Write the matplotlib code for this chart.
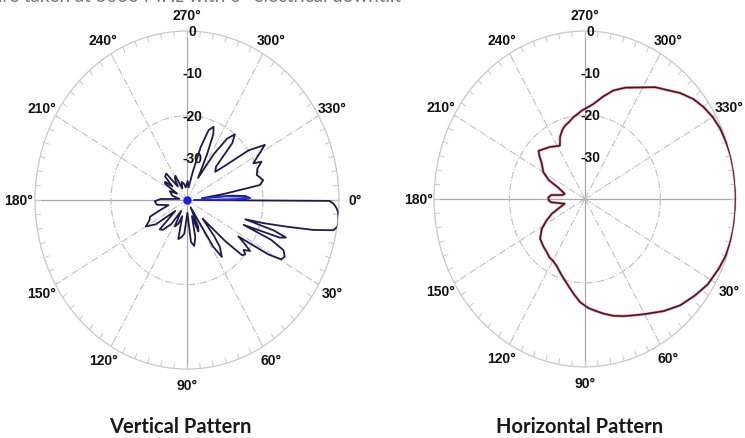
import numpy as np
import matplotlib.pyplot as plt
from matplotlib.transforms import ScaledTranslation

plt.rcParams['font.family'] = ['Liberation Sans', 'DejaVu Sans']

# vertical pattern: angle (deg, clockwise from 0° at right) and level (dB)
v_angle = [0.0, 0.3, 1.2, 2, 3, 4, 5, 7, 9, 10.5, 12, 13.5, 15.2, 16.5,
           17.5, 18.8, 20, 21.5,
           23, 25, 27.5, 29.5, 31, 32.5,
           34, 36, 38.4, 40, 42, 44, 47,
           50, 52, 55.7, 58, 61,
           65, 68, 71,
           76, 80, 84, 88,
           95, 100, 104, 108,
           112, 117, 121,
           126, 132, 136, 140,
           145, 150, 154, 158, 162,
           166, 172, 178, 182, 188,
           195, 205, 210,
           214, 217, 220,
           224, 229, 233,
           238, 242, 246,
           252, 258, 264, 272, 278,
           283, 286, 289, 292, 294, 296, 299,
           303, 306, 309, 311.5, 314,
           318, 321, 324, 327.5, 330, 333.5, 335.2, 338, 342, 346.8, 349.5, 351.5, 353.5,
           355, 356.5, 358.4, 359.2, 360]
v_db = [-38, -2.5, -1.5, -1.0, -0.5, -0.2, 0, 0.2, 0.1, -0.8, -6, -13, -19.2, -24,
        -16, -12.5, -14, -24,
        -16, -12, -11, -11.5, -15, -24,
        -22, -19.5, -21, -20, -20.5, -26, -34,
        -29, -26, -23.7, -27, -38,
        -33, -32, -36,
        -31, -29, -30, -37,
        -32, -31, -30.5, -36,
        -34, -33, -37,
        -33, -30.5, -30, -36,
        -30, -27.5, -29, -29.5, -33,
        -35, -32, -31.5, -33, -38,
        -36, -35, -37,
        -33, -32.8, -35,
        -32, -31.7, -36,
        -34, -33.5, -37,
        -35.5, -36, -37, -35.5, -37,
        -33, -27, -22.5, -21.3, -23, -28, -34,
        -27, -22, -20, -22, -29,
        -30, -27, -20, -15.7, -18, -20.5, -18.4, -20, -20.7, -19.4, -20.5, -30, -36,
        -28, -24.5, -23.4, -27, -38]

# small blue side lobe near the horizon
vb_angle = [353.5, 355, 356.5, 357.5, 358.4, 359.2, 360]
vb_db = [-36, -30, -27, -24, -23.4, -27, -38]

# horizontal pattern
h_angle = [0, 5, 10, 15, 20, 25, 32, 38, 45, 52, 59, 63, 67, 70, 75, 80, 84, 88, 93, 97,
           101, 108.7, 115.3, 119.8, 124, 128.7, 134, 141.4, 148, 153, 158, 163, 168,
           172, 175, 178, 182, 186, 189, 193, 197.5, 201, 205, 210, 217, 220.5, 223,
           227, 233, 238, 242.4, 246, 250, 253, 257, 261, 268, 275.6, 281, 286.2, 292,
           299.4, 305, 311, 315, 320.3, 325, 330, 335, 340, 345, 350, 355, 360]
h_db = [0, 0, 0, -0.1, -0.3, -0.8, -1.6, -2.8, -4.2, -6.1, -8.1, -9.0, -9.8, -10.3, -11.2,
        -12.3, -13.2, -14.0, -15.4, -17.0,
        -18.5, -20.8, -22.4, -23, -23.2, -23.8, -24.2, -24.8, -26.5, -28.5, -30.5, -33, -34.5,
        -33, -31, -30.4, -30.3, -31, -34, -34.5, -33.5, -32.4, -29.5, -27.3, -25.6, -24.1, -23.2,
        -23.8, -24.5, -25.2, -25.7, -23.8, -22.5, -21.8, -21.2, -20.3, -18.9, -17.3, -15.2, -13.1, -11.4,
        -9.5, -7.5, -5.8, -4.3, -2.7, -1.7, -0.9, -0.4, -0.2, 0, 0, 0, 0]

theta_ticks = list(range(0, 360, 30))
theta_labels = [f'{a}°' for a in theta_ticks]
r_ticks = [0, -10, -20, -30]
titles = ['Vertical Pattern', 'Horizontal Pattern']

fig = plt.figure(figsize=(7.45, 4.39), dpi=100)
ax1 = fig.add_axes([0.047, 0.157, 0.408, 0.770], projection='polar')
ax2 = fig.add_axes([0.5826, 0.162, 0.405, 0.765], projection='polar')


def style_polar(ax):
    ax.set_theta_zero_location('E')
    ax.set_theta_direction(-1)
    ax.set_ylim(-40, 0)
    ax.grid(False)
    ax.set_yticks([])
    ax.set_xticks(np.radians(theta_ticks), theta_labels)
    ax.tick_params(axis='x', labelsize=10, pad=1, colors='#111111')
    for lab in ax.get_xticklabels():
        lab.set_fontweight('bold')
    ax.spines['polar'].set_color('#c8c8c8')
    ax.spines['polar'].set_linewidth(0.9)
    # spokes
    for a in theta_ticks:
        t = np.radians(a)
        if a % 90 == 0:
            ax.plot([t, t], [-40, 0], color='#a9a9a9', lw=0.9, zorder=1)
        else:
            ax.plot([t, t], [-40, 0], color='#c0c0c0', lw=0.8, ls='-.', zorder=1)
    # -20 dB ring
    ring = np.radians(np.arange(0, 361, 1))
    ax.plot(ring, np.full(ring.shape, -20.0), color='#c0c0c0', lw=0.8, ls='-.', zorder=1)
    # small rim ticks
    for a in range(0, 360, 5):
        t = np.radians(a)
        ax.plot([t, t], [-1.3, 0], color='#c8c8c8', lw=0.7, zorder=1)
    # radial labels on the 270° spoke
    trans = ax.transData + ScaledTranslation(4 / 72, 0, fig.dpi_scale_trans)
    for r in r_ticks:
        ax.text(np.radians(270), r, str(r), transform=trans, ha='center', va='center',
                fontsize=10, fontweight='bold', color='#111111', zorder=3)
    ax.set_aspect('auto')


style_polar(ax1)
style_polar(ax2)

ax1.plot(np.radians(v_angle), v_db, color='#1c1c4c', lw=1.3, zorder=4)
ax1.plot(np.radians(vb_angle), vb_db, color='#2a2ad0', lw=1.2, zorder=5)
ax1.plot([0], [-40], 'o', color='#1f1fd8', ms=5, zorder=6)

ax2.plot(np.radians(h_angle), h_db, color='#d04a5a', lw=2.0, alpha=0.6, zorder=4)
ax2.plot(np.radians(h_angle), h_db, color='#4a1522', lw=1.1, zorder=5)

fig.text(180 / 745, 1 - 427 / 439, titles[0], ha='center', va='center',
         fontsize=14.5, fontweight='bold', family=['Lato', 'DejaVu Sans'], color='#1a1a1a')
fig.text(580 / 745, 1 - 427 / 439, titles[1], ha='center', va='center',
         fontsize=14.5, fontweight='bold', family=['Lato', 'DejaVu Sans'], color='#1a1a1a')

# cut-off caption line at the very top
fig.text(-0.01, 1 - 2 / 439, 'are taken at 3000 MHz with 0° electrical downtilt', ha='left',
         va='baseline', fontsize=13.5, family=['Lato', 'DejaVu Sans'], color='#777777')

fig.savefig('out.png', dpi=100)
